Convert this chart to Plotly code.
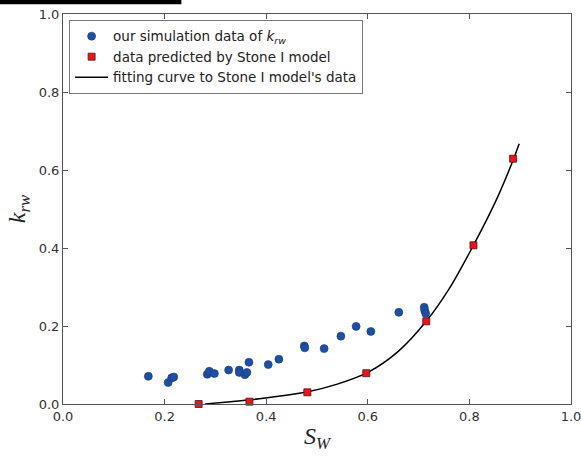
import plotly.graph_objects as go

sim_x = [0.168, 0.207, 0.214, 0.218, 0.284, 0.288, 0.298, 0.326, 0.347, 0.347, 0.358, 0.362,
         0.366, 0.404, 0.425, 0.475, 0.476, 0.514, 0.547, 0.577, 0.606, 0.661, 0.711, 0.712, 0.714]
sim_y = [0.071, 0.055, 0.067, 0.069, 0.076, 0.084, 0.078, 0.087, 0.087, 0.081, 0.075, 0.081,
         0.107, 0.101, 0.115, 0.149, 0.144, 0.142, 0.174, 0.199, 0.186, 0.235, 0.248, 0.240, 0.232]

stone_x = [0.267, 0.367, 0.481, 0.597, 0.715, 0.808, 0.886]
stone_y = [0.0, 0.006, 0.030, 0.079, 0.212, 0.407, 0.629]

fit_x = [0.28, 0.33, 0.37, 0.42, 0.48, 0.54, 0.60, 0.66, 0.715, 0.76, 0.808, 0.85, 0.886, 0.898]
fit_y = [0.0, 0.006, 0.011, 0.019, 0.031, 0.051, 0.081, 0.135, 0.212, 0.295, 0.407, 0.515, 0.625, 0.667]

fig = go.Figure()
fig.add_trace(go.Scatter(
    x=fit_x, y=fit_y, mode="lines",
    name="fitting curve to Stone I model's data",
    line=dict(color="black", width=1.5, shape="spline", smoothing=0.8),
    legendrank=3,
))
fig.add_trace(go.Scatter(
    x=sim_x, y=sim_y, mode="markers",
    name="our simulation data of <i>k</i><sub><i>rw</i></sub>",
    marker=dict(symbol="circle", size=8, color="#1f4fa3", line=dict(width=0.6, color="#1a3a7a")),
    legendrank=1,
))
fig.add_trace(go.Scatter(
    x=stone_x, y=stone_y, mode="markers",
    name="data predicted by Stone I model",
    marker=dict(symbol="square", size=7, color="#e8161b", line=dict(width=0.8, color="#5a1010")),
    cliponaxis=False,
    legendrank=2,
))

axis_common = dict(
    showgrid=False, zeroline=False, showline=True, linecolor="#555", linewidth=1,
    mirror="allticks", ticks="inside", ticklen=5, tickcolor="#555",
    tickfont=dict(family="DejaVu Sans", size=13, color="#333"),
    dtick=0.2, tickformat=".1f", automargin=False, ticklabeloverflow="allow",
)
fig.update_xaxes(range=[0, 1], tick0=0,
                 title=dict(text="<i>S<sub>W</sub></i>",
                            font=dict(family="Liberation Serif", size=24, color="#222"), standoff=4),
                 **axis_common)
fig.update_yaxes(range=[0, 1], tick0=0,
                 title=dict(text="<i>k<sub>rw</sub></i>",
                            font=dict(family="Liberation Serif", size=24, color="#222"), standoff=6),
                 **axis_common)

fig.update_layout(
    width=581, height=460,
    margin=dict(l=63, r=10, t=14, b=56, autoexpand=False),
    plot_bgcolor="white", paper_bgcolor="white",
    legend=dict(
        x=0.012, y=0.985, xanchor="left", yanchor="top",
        bordercolor="#777", borderwidth=1, bgcolor="white",
        font=dict(family="DejaVu Sans", size=13.5, color="#222"),
        traceorder="normal", tracegroupgap=0, itemwidth=33,
    ),
    shapes=[dict(type="rect", xref="paper", yref="paper",
                 x0=-0.124, x1=0.233, y0=1.025, y1=1.04,
                 fillcolor="black", line=dict(width=0))],
)

fig.write_html("out.html", config={"displayModeBar": False},
               post_script="document.body.style.margin='0';document.body.style.overflow='hidden';")
